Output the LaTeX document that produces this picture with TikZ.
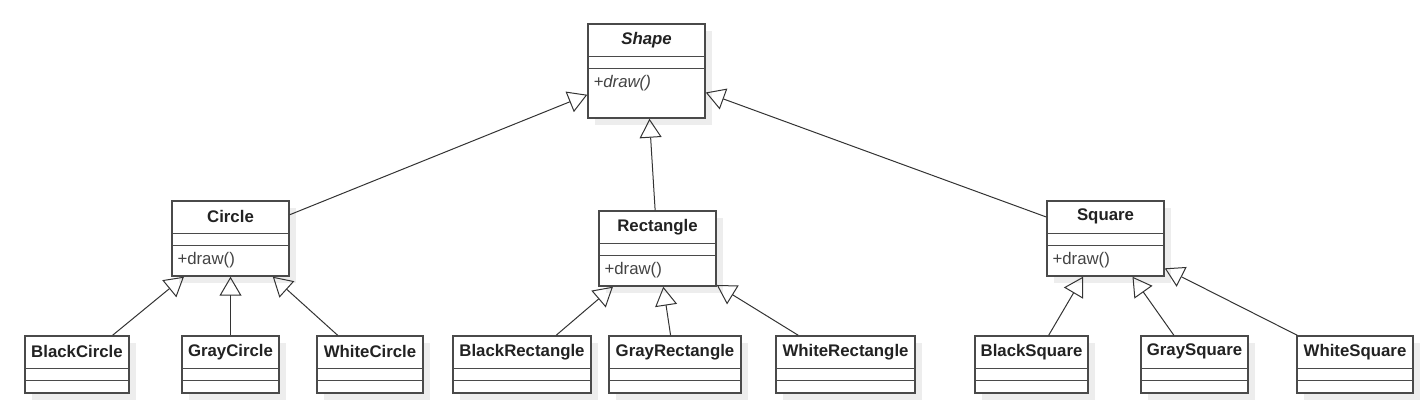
\documentclass[tikz,border=0pt]{standalone}
\usepackage{fontspec}
\setmainfont{Liberation Sans}
\usetikzlibrary{arrows.meta, shadows}

\definecolor{boxline}{HTML}{4A4A4A}
\definecolor{linkline}{HTML}{333333}
\definecolor{nametext}{HTML}{222222}
\definecolor{optext}{HTML}{444444}

\tikzset{
  classbox/.style={draw=boxline, line width=1.4pt, fill=white, inner sep=0pt,
    drop shadow={shadow xshift=7pt, shadow yshift=-7pt, fill=black!7, opacity=1}},
  classname/.style={font=\fontsize{16.8}{20}\selectfont\bfseries, text=nametext, inner sep=0pt},
  classop/.style={font=\fontsize{16.8}{20}\selectfont, text=optext, anchor=west, inner sep=0pt},
  partline/.style={draw=boxline, line width=1.4pt},
  inherit/.style={draw=linkline, line width=1pt, -{Triangle[open, length=19pt, width=22pt]}}
}

\begin{document}
\begin{tikzpicture}[x=1pt, y=-1pt]
  \useasboundingbox (0,0) rectangle (1426,400);
  % abstract class
  \node[classbox, minimum width=117pt, minimum height=94pt] (shape) at (646.5,71) {};
  % second level
  \node[classbox, minimum width=117pt, minimum height=75pt] (circle) at (230.5,238.5) {};
  \node[classbox, minimum width=117pt, minimum height=75pt] (rectangle) at (657.5,248.5) {};
  \node[classbox, minimum width=117pt, minimum height=75pt] (square) at (1105.5,238.5) {};
  % leaves
  \node[classbox, minimum width=104pt, minimum height=57pt] (blackcircle) at (77,364.5) {};
  \node[classbox, minimum width=97pt, minimum height=57pt] (graycircle) at (230.5,364.5) {};
  \node[classbox, minimum width=106pt, minimum height=57pt] (whitecircle) at (370,364.5) {};
  \node[classbox, minimum width=138pt, minimum height=57pt] (blackrectangle) at (522,364.5) {};
  \node[classbox, minimum width=132pt, minimum height=57pt] (grayrectangle) at (675,364.5) {};
  \node[classbox, minimum width=139pt, minimum height=57pt] (whiterectangle) at (845.5,364.5) {};
  \node[classbox, minimum width=113pt, minimum height=57pt] (blacksquare) at (1031.5,364.5) {};
  \node[classbox, minimum width=107pt, minimum height=57pt] (graysquare) at (1194.5,364.5) {};
  \node[classbox, minimum width=116pt, minimum height=57pt] (whitesquare) at (1355,364.5) {};

  % compartments
  \foreach \c in {shape, circle, rectangle, square, blackcircle, graycircle, whitecircle,
      blackrectangle, grayrectangle, whiterectangle, blacksquare, graysquare, whitesquare} {
    \draw[partline] ([yshift=-33pt]\c.north west) -- ([yshift=-33pt]\c.north east);
    \draw[partline] ([yshift=-45pt]\c.north west) -- ([yshift=-45pt]\c.north east);
  }

  % names
  \node[classname, font=\fontsize{16.8}{20}\selectfont\bfseries\itshape] (shape-name) at ([yshift=-16.5pt]shape.north) {Shape};
  \node[classname] (circle-name) at ([yshift=-16.5pt]circle.north) {Circle};
  \node[classname] (rectangle-name) at ([yshift=-16.5pt]rectangle.north) {Rectangle};
  \node[classname] (square-name) at ([yshift=-16.5pt]square.north) {Square};
  \node[classname] (blackcircle-name) at ([yshift=-16.5pt]blackcircle.north) {BlackCircle};
  \node[classname] (graycircle-name) at ([yshift=-16.5pt]graycircle.north) {GrayCircle};
  \node[classname] (whitecircle-name) at ([yshift=-16.5pt]whitecircle.north) {WhiteCircle};
  \node[classname] (blackrectangle-name) at ([yshift=-16.5pt]blackrectangle.north) {BlackRectangle};
  \node[classname] (grayrectangle-name) at ([yshift=-16.5pt]grayrectangle.north) {GrayRectangle};
  \node[classname] (whiterectangle-name) at ([yshift=-16.5pt]whiterectangle.north) {WhiteRectangle};
  \node[classname] (blacksquare-name) at ([yshift=-16.5pt]blacksquare.north) {BlackSquare};
  \node[classname] (graysquare-name) at ([yshift=-16.5pt]graysquare.north) {GraySquare};
  \node[classname] (whitesquare-name) at ([yshift=-16.5pt]whitesquare.north) {WhiteSquare};

  % operations
  \node[classop, font=\fontsize{16.8}{20}\selectfont\itshape] (shape-op) at ([xshift=6pt, yshift=-60pt]shape.north west) {+draw()};
  \node[classop] (circle-op) at ([xshift=6pt, yshift=-60pt]circle.north west) {+draw()};
  \node[classop] (rectangle-op) at ([xshift=6pt, yshift=-60pt]rectangle.north west) {+draw()};
  \node[classop] (square-op) at ([xshift=6pt, yshift=-60pt]square.north west) {+draw()};

  % generalisations
  \draw[inherit] (circle) -- (shape);
  \draw[inherit] (rectangle) -- (shape);
  \draw[inherit] (square) -- (shape);
  \draw[inherit] (blackcircle) -- (circle);
  \draw[inherit] (graycircle) -- (circle);
  \draw[inherit] (whitecircle) -- (circle);
  \draw[inherit] (blackrectangle) -- (rectangle);
  \draw[inherit] (grayrectangle) -- (rectangle);
  \draw[inherit] (whiterectangle) -- (rectangle);
  \draw[inherit] (blacksquare) -- (square);
  \draw[inherit] (graysquare) -- (square);
  \draw[inherit] (whitesquare) -- (square);
\end{tikzpicture}
\end{document}
